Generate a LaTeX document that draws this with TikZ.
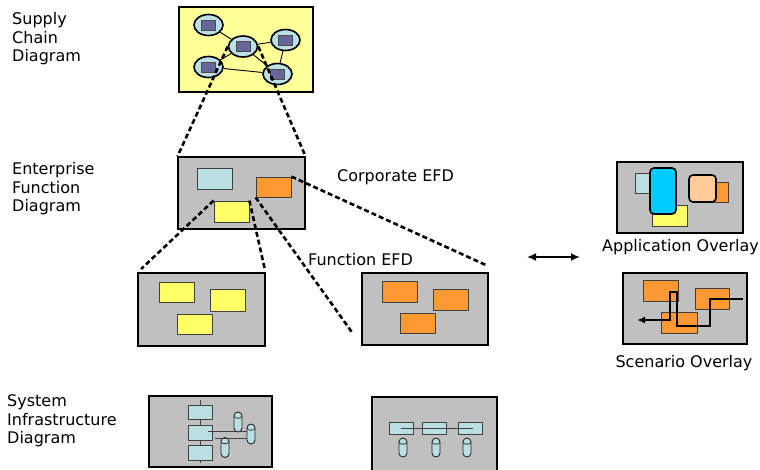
\documentclass[tikz,border=0pt]{standalone}
\usepackage{fontspec}
\setmainfont{DejaVu Sans}
\usetikzlibrary{shapes.geometric,shapes.misc,arrows.meta}

\definecolor{panelgray}{HTML}{C0C0C0}
\definecolor{chainyellow}{HTML}{FFFF99}
\definecolor{partblue}{HTML}{BBE0E3}
\definecolor{partyellow}{HTML}{FFFF66}
\definecolor{partorange}{HTML}{FF9933}
\definecolor{chipblue}{HTML}{666699}
\definecolor{appcyan}{HTML}{00CCFF}
\definecolor{apppeach}{HTML}{FFCC99}

\begin{document}
\begin{tikzpicture}[x=1pt, y=-1pt, every node/.style={font=\fontsize{16}{18.5}\selectfont},
    panel/.style={draw, fill=panelgray, line width=1.1pt, inner sep=0pt},
    part/.style={draw=black!75, line width=0.8pt, inner sep=0pt, minimum width=35, minimum height=21},
    hub/.style={ellipse, draw, line width=1.6pt, fill=partblue, minimum width=29, minimum height=21, inner sep=0pt},
    chip/.style={draw=black!70, fill=chipblue, minimum width=14, minimum height=10, inner sep=0pt},
    zoomline/.style={line width=2.6pt, dash pattern=on 5pt off 3pt},
    drum/.style={rounded rectangle, rotate=90, draw=black!85, line width=0.9pt, fill=partblue, minimum width=20, minimum height=8, inner sep=0pt},
    bus/.style={draw=black!75, line width=0.9pt},
    title/.style={align=left, inner sep=0pt, anchor=north west},
    caption/.style={inner sep=0pt}]
    \useasboundingbox (0,0) rectangle (760,469);

    % Подписи уровней
    \node[title] (sctitle) at (12,12.5) {Supply\\Chain\\Diagram};
    \node[title] (efdtitle) at (12,162.5) {Enterprise\\Function\\Diagram};
    \node[title] (sititle) at (7,394.5) {System\\Infrastructure\\Diagram};

    % Цепочка поставок
    \node[panel, fill=chainyellow, minimum width=134, minimum height=85] (chain) at (246,49.5) {};
    \foreach \n/\x/\y in {a/208.5/25, b/243/46.5, c/285.5/40, d/208.5/67, e/277.5/74} {
        \node[hub] (\n) at (\x,\y) {};
        \node[chip] at (\n) {};
    }
    \draw[line width=0.9pt] (a) -- (b) (b) -- (c) (b) -- (d) (b) -- (e) (c) -- (e) (d) -- (e);

    % Корпоративная EFD
    \node[panel, minimum width=127, minimum height=72] (efd) at (241.5,193) {};
    \node[part, fill=partblue] (eb) at (214.5,178.5) {};
    \node[part, fill=partorange, minimum height=20] (eo) at (273.5,187) {};
    \node[part, fill=partyellow] (ey) at (231.5,211.5) {};
    \node[caption, anchor=base west] (corp) at (337,181) {Corporate EFD};

    % Функциональные EFD
    \node[panel, minimum width=127, minimum height=73] (yefd) at (201.5,309.5) {};
    \node[part, fill=partyellow, minimum height=20] (y1) at (176.5,292) {};
    \node[part, fill=partyellow, minimum height=22] (y2) at (227.5,300) {};
    \node[part, fill=partyellow, minimum height=20] (y3) at (194.5,324) {};

    \node[panel, minimum width=126, minimum height=72] (oefd) at (425,309) {};
    \node[part, fill=partorange] (o1) at (400,291.5) {};
    \node[part, fill=partorange] (o2) at (450.5,299.5) {};
    \node[part, fill=partorange, minimum height=20] (o3) at (417.5,323) {};
    \node[caption, anchor=base west] (func) at (308,265) {Function EFD};

    % Линии увеличения
    \coordinate (oz) at (488,266);
    \draw[zoomline] (b.west) -- (efd.north west);
    \draw[zoomline] (b.east) -- (efd.north east);
    \draw[zoomline, shorten >=5pt] (ey.north west) -- (yefd.north west);
    \draw[zoomline, shorten >=3pt] (ey.north east) -- (yefd.north east);
    \draw[zoomline, shorten >=15pt] (eo.south west) -- (oefd.south west);
    \draw[zoomline] (eo.north east) -- (oz);

    % Двусторонняя стрелка
    \coordinate (arl) at (527,257);
    \coordinate (arr) at (580,257);
    \draw[line width=1.8pt, {Latex[length=9pt,width=8pt]}-{Latex[length=9pt,width=8pt]}] (arl) -- (arr);

    % Наложение приложений
    \node[panel, minimum width=126, minimum height=71] (appov) at (680,197.5) {};
    \node[part, fill=partblue, minimum width=17, minimum height=20] (a1) at (643.5,183) {};
    \node[part, fill=partyellow] (a2) at (669.5,215.5) {};
    \node[draw, fill=appcyan, line width=1.6pt, rounded corners=4pt, minimum width=26, minimum height=46, inner sep=0pt] (a3) at (663,191) {};
    \node[part, fill=partorange, minimum width=16, minimum height=20] (a4) at (720,192) {};
    \node[draw, fill=apppeach, line width=1.6pt, rounded corners=4pt, minimum width=27, minimum height=27, inner sep=0pt] (a5) at (702.5,188.5) {};
    \node[caption, anchor=base] (apptext) at (680.5,251) {Application Overlay};

    % Наложение сценария
    \node[panel, minimum width=124, minimum height=71] (scnov) at (685,308.5) {};
    \node[part, fill=partorange] (s1) at (660.5,290.5) {};
    \node[part, fill=partorange, minimum width=34] (s2) at (712,298.5) {};
    \node[part, fill=partorange, minimum width=36] (s3) at (679,322.5) {};
    \coordinate (rstart) at (743,299);
    \coordinate (rend) at (637,320);
    \draw[line width=2.2pt, -{Latex[length=8pt,width=7pt]}] (rstart) -| (710,326) -| (677,292) -| (670,320) -- (rend);
    \node[caption, anchor=base] (scntext) at (684,367) {Scenario Overlay};

    % Инфраструктура
    \node[panel, minimum width=123, minimum height=71] (infra) at (210.5,431.5) {};
    \draw[bus] (200,400) -- (200,463);
    \foreach \n/\y in {r1/412.5, r2/433, r3/453} {
        \node[part, fill=partblue, minimum width=24, minimum height=14.5] (\n) at (200,\y) {};
    }
    \foreach \n/\x/\y in {c1/238/422, c2/251/434, c3/225/447.5} {
        \node[drum] (\n) at (\x,\y) {};
        \draw[bus] ([shift={(-4,-6)}]\n.center) .. controls +(0,3) and +(0,3) .. ([shift={(4,-6)}]\n.center);
    }
    \draw[bus] ([xshift=-4pt, yshift=2pt]r2.east) -- (247,431);
    \draw[bus] (215,438) -- (247,438);

    \node[panel, minimum width=125, minimum height=80] (infra2) at (434.5,437) {};
    \foreach \n/\x in {q1/401, q2/434.5, q3/470} {
        \node[part, fill=partblue, minimum width=24, minimum height=12] (\n) at (\x,428) {};
    }
    \draw[bus] (q1.center) -- ([xshift=3pt]q3.center);
    \foreach \n/\x in {d1/403, d2/436, d3/467} {
        \node[drum, minimum width=19] (\n) at (\x,447.5) {};
        \draw[bus] ([shift={(-4,-5.5)}]\n.center) .. controls +(0,3) and +(0,3) .. ([shift={(4,-5.5)}]\n.center);
    }
\end{tikzpicture}
\end{document}
